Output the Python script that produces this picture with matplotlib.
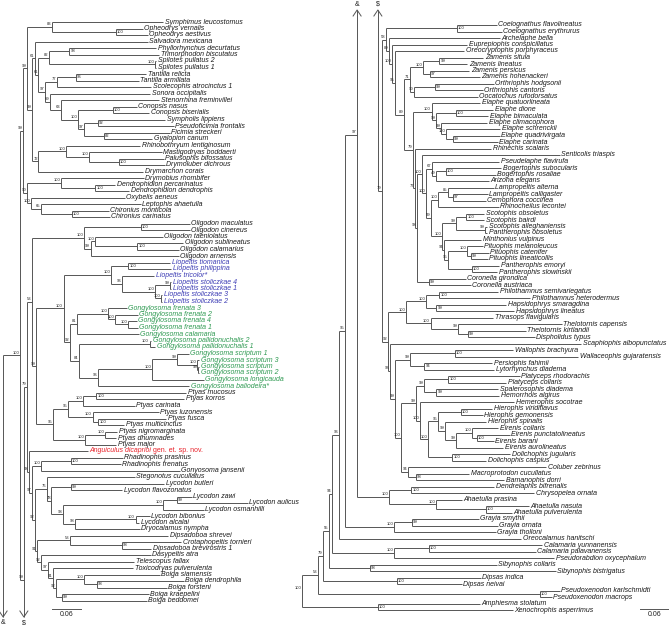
import matplotlib
matplotlib.use("Agg")
import matplotlib.pyplot as plt

plt.rcParams['font.family'] = ['Liberation Sans', 'DejaVu Sans']

# tree pieces, newick: branch lengths in substitutions/site, node labels = support
SYMPHIMUS = "(Symphimus_leucostomus:0.230,(Opheodrys_vernalis:0.056,Opheodrys_aestivus:0.066)100:0.132)83"
PHYLLORHYNCHUS = "((Phyllorhynchus_decurtatus:0.180,Trimorphodon_biscutatus:0.186)98:0.043,(Spilotes_pullatus_2:0.002,Spilotes_pullatus_1:0.002)100:0.221)82"
TANTILLA = "((Tantilla_relicta:0.145,Tantilla_armillata:0.130)96:0.039,Scolecophis_atrocinctus_1:0.195)77"
SONORA = "(Sonora_occipitalis:0.207,(Stenorrhina_freminvillei:0.203,((Conopsis_nasus:0.050,Conopsis_biserialis:0.075)100:0.072,((Sympholis_lippiens:0.139,Pseudoficimia_frontalis:0.157)92:0.029,(Ficimia_streckeri:0.137,Gyalopion_canum:0.101)82:0.041)97:0.012)100:0.035)63:0.023)69"
DRYMARCHON = "((Rhinobothryum_lentiginosum:0.153,(Mastigodryas_boddaerti:0.151,(Palusophis_bifossatus:0.093,Drymoluber_dichrous:0.095)100:0.062)100:0.046)100:0.058,Drymarchon_corais:0.217)72"
LEPTOPHIS = "((Drymobius_rhombifer:0.172,(Dendrophidion_percarinatus:0.041,Dendrophidion_dendrophis:0.070)100:0.072)100:0.070,(Oxybelis_aeneus:0.195,(Leptophis_ahaetulla:0.207,(Chironius_monticola:0.077,Chironius_carinatus:0.079)100:0.064)65:0.021)100:0.008)90"
NEW_WORLD = (f"(({SYMPHIMUS}:0.052,((Salvadora_mexicana:0.234,({PHYLLORHYNCHUS}:0.021,"
             f"({TANTILLA}:0.025,{SONORA}:0.010)97:0.014)61:0.008)61:0.006,{DRYMARCHON}:0.014)99:0.010)99:0.008,"
             f"{LEPTOPHIS}:0.008)99")

OLIGODON = "((Oligodon_maculatus:0.101,Oligodon_cinereus:0.101)100:0.118,((Oligodon_taeniolatus:0.139,(Oligodon_sublineatus:0.095,Oligodon_calamarius:0.085)100:0.087)100:0.010,Oligodon_arnensis:0.182)99:0.014)100"
LIOPELTIS = "((Liopeltis_tiomanica:0.087,Liopeltis_philippina:0.089)100:0.035,(Liopeltis_tricolor*:0.068,((Liopeltis_stoliczkae_4:0.002,Liopeltis_stoliczkae_1:0.002)99:0.031,(Liopeltis_stoliczkae_3:0.002,Liopeltis_stoliczkae_2:0.002)100:0.012)100:0.070)96:0.021)100"
GONGYLOSOMA = "(((Gongylosoma_frenata_3:0.039,(Gongylosoma_frenata_2:0.048,(Gongylosoma_frenata_4:0.019,Gongylosoma_frenata_1:0.021)100:0.027)100:0.014)100:0.064,Gongylosoma_calamaria:0.128)81:0.014,((Gongylosoma_pallidonuchalis_2:0.004,Gongylosoma_pallidonuchalis_1:0.012)100:0.147,(((Gongylosoma_scriptum_1:0.025,(Gongylosoma_scriptum_3:0.004,(Gongylosoma_scriptum:0.002,Gongylosoma_scriptum_2:0.002)99:0.002)100:0.043)99:0.050,Gongylosoma_longicauda:0.106)100:0.112,Gongylosoma_baliodeira*:0.188)96:0.041)84:0.017)92"
PTYAS = "((((Ptyas_mucosus:0.186,Ptyas_korros:0.182)100:0.027,Ptyas_carinata:0.106)100:0.031,(Ptyas_luzonensis:0.137,(Ptyas_fusca:0.141,Ptyas_multicinctus:0.054)100:0.012)100:0.050)95:0.031,((Ptyas_nigromarginata:0.025,Ptyas_dhumnades:0.023)100:0.041,Ptyas_major:0.064)100:0.066)95"
RHADINOPHIS = "((Rhadinophis_prasinus:0.108,Rhadinophis_frenatus:0.103)100:0.062,Gonyosoma_jansenii:0.288)100"
LYCODON = "(Stegonotus_cucullatus:0.182,((Lycodon_butleri:0.192,Lycodon_flavozonatus:0.106)99:0.041,(((Lycodon_zawi:0.031,Lycodon_aulicus:0.147)99:0.029,Lycodon_osmanhilli:0.085)100:0.207,((Lycodon_bibonius:0.029,Lycodon_alcalai:0.008)100:0.126,Dryocalamus_nympha:0.135)98:0.025)93:0.023)78:0.010)76"
BOIGA = "((Dipsadoboa_shrevei:0.203,(Crotaphopeltis_tornieri:0.124,Dipsadoboa_brevirostris_1:0.062)98:0.106)53:0.068,(Dasypeltis_atra:0.226,(Telescopus_fallax:0.178,(Toxicodryas_pulverulenta:0.166,((Boiga_siamensis:0.157,(Boiga_dendrophila:0.180,Boiga_forsteni:0.145)98:0.027)100:0.058,(Boiga_kraepelini:0.180,Boiga_beddomei:0.176)99:0.012)92:0.006)91:0.010)97:0.014)92:0.008)91"
OLD_WORLD = (f"(({OLIGODON}:0.108,(({LIOPELTIS}:0.099,{GONGYLOSOMA}:0.014)100:0.056,{PTYAS}:0.035)99:0.010)53:0.010,"
             f"(Anguiculus_dicaprioi_gen._et._sp._nov.:0.122,({RHADINOPHIS}:0.019,({LYCODON}:0.025,{BOIGA}:0.006)92:0.006)97:0.006)93:0.004)79")

COELOGNATHUS = "(Coelognathus_flavolineatus:0.083,Coelognathus_erythrurus:0.093)100"
ZAMENIS = "((Zamenis_situla:0.091,Zamenis_lineatus:0.058)99:0.033,(Zamenis_persicus:0.081,Zamenis_hohenackeri:0.103)97:0.014)100"
ORTHRIOPHIS = "((Orthriophis_hodgsonii:0.122,Orthriophis_cantoris:0.099)99:0.043,Oocatochus_rufodorsatus:0.132)90"
ELAPHE = "(Elaphe_quatuorlineata:0.101,((Elaphe_dione:0.077,Elaphe_bimaculata:0.066)100:0.041,(Elaphe_climacophora:0.095,(Elaphe_schrenckii:0.112,(Elaphe_quadrivirgata:0.097,Elaphe_carinata:0.093)99:0.014)100:0.010)99:0.010)99:0.010)100"
LAMPROPELTIS = "(Senticolis_triaspis:0.284,((Pseudelaphe_flavirufa:0.139,((Bogertophis_subocularis:0.114,Bogertophis_rosaliae:0.103)100:0.021,Arizona_elegans:0.110)49:0.008)67:0.012,(((Lampropeltis_alterna:0.095,(Lampropeltis_calligaster:0.072,Cemophora_coccinea:0.068)97:0.010)85:0.021,Rhinocheilus_lecontei:0.126)100:0.014,(((Scotophis_obsoletus:0.037,Scotophis_bairdi:0.037)100:0.021,(Scotophis_alleghaniensis:0.004,Pantherophis_obsoletus:0.004)99:0.060)99:0.029,(Minthonius_vulpinus:0.077,((Pituophis_melanoleucus:0.033,(Pituophis_catenifer:0.037,Pituophis_lineaticollis:0.035)99:0.008)100:0.039,(Pantherophis_emoryi:0.056,Pantherophis_slowinskii:0.052)100:0.050)95:0.008)94:0.004)100:0.023)59:0.010)100:0.008)100"
ELAPHINI = (f"({COELOGNATHUS}:0.147,(Archelaphe_bella:0.228,(Euprepiophis_conspicillatus:0.155,"
            f"(Oreocryptophis_porphyraceus:0.143,(({ZAMENIS}:0.027,{ORTHRIOPHIS}:0.008)71:0.012,"
            f"({ELAPHE}:0.039,(Rhinechis_scalaris:0.159,({LAMPROPELTIS}:0.012,"
            f"(Coronella_girondica:0.077,Coronella_austriaca:0.087)99:0.025)93:0.004)77:0.004)79:0.017)89:0.019)95:0.006)100:0.006)89:0.008)58")

AFRICAN = "(((Philothamnus_semivariegatus:0.122,Philothamnus_heterodermus:0.188)100:0.027,(Hapsidophrys_smaragdina:0.145,Hapsidophrys_lineatus:0.161)99:0.021)100:0.041,(Thrasops_flavigularis:0.130,(Thelotornis_capensis:0.215,(Thelotornis_kirtlandii:0.120,Dispholidus_typus:0.139)99:0.021)99:0.056)100:0.050)100"
WALLOPHIS = "((Wallophis_brachyura:0.120,Wallaceophis_gujaratensis:0.255)100:0.093,(Persiophis_fahimii:0.141,Lytorhynchus_diadema:0.145)94:0.029)99"
PLATYCEPS = "((Platyceps_rhodorachis:0.147,Platyceps_collaris:0.120)100:0.050,(Spalerosophis_diadema:0.128,Hemorrhois_algirus:0.130)99:0.025)99"
HIEROPHIS = "((Hierophis_viridiflavus:0.066,Hierophis_gemonensis:0.046)100:0.046,(Hierophis_spinalis:0.085,((Eirenis_collaris:0.054,(Eirenis_punctatolineatus:0.068,Eirenis_barani:0.035)100:0.010)100:0.033,Eirenis_aurolineatus:0.097)99:0.023)99:0.014)95"
COLUBER = "(Coluber_zebrinus:0.286,(Macroprotodon_cucullatus:0.110,Bamanophis_dorri:0.182)98:0.017)94"
COLUBRINI = (f"({AFRICAN}:0.039,(Scaphiophis_albopunctatus:0.395,({WALLOPHIS}:0.031,(({PLATYCEPS}:0.017,"
             f"(Hemerophis_socotrae:0.195,({HIEROPHIS}:0.021,(Dolichophis_jugularis:0.120,Dolichophis_caspius:0.070)100:0.050)100:0.017)100:0.008)99:0.031,"
             f"{COLUBER}:0.014)100:0.012)99:0.010)96:0.006)92")

AHAETULLA = "((Dendrelaphis_bifrenalis:0.172,Chrysopelea_ornata:0.255)100:0.046,(Ahaetulla_prasina:0.054,(Ahaetulla_nasuta:0.089,Ahaetulla_pulverulenta:0.054)100:0.103)100:0.097)100"
GRAYIA = "((Grayia_smythii:0.139,Grayia_ornata:0.178)99:0.037,Grayia_tholloni:0.211)100"
CALAMARIA = "((Calamaria_yunnanensis:0.234,Calamaria_palavanensis:0.221)100:0.072,Pseudorabdion_oxycephalum:0.331)100"
SIBYNOPHIS = "(Sibynophis_collaris:0.263,Sibynophis_bistrigatus:0.385)98"
DIPSAS = "(Dipsas_indica:0.174,Dipsas_neivai:0.134)100"
PSEUDOXENODON = "(Pseudoxenodon_karlschmidti:0.041,Pseudoxenodon_macrops:0.025)100"
NATRICINAE = "(Amphiesma_stolatum:0.211,Xenochrophis_asperrimus:0.279)100"

TREE = (f"((((((((({NEW_WORLD}:0.006,({OLD_WORLD}:0.006,({ELAPHINI}:0.008,{COLUBRINI}:0.012)79:0.008)99:0.008)100:0.035,"
        f"{AHAETULLA}:0.066)97:0.025,{GRAYIA}:0.101)95:0.012,Oreocalamus_hanitschi:0.377)96:0.014,"
        f"{CALAMARIA}:0.128)94:0.008,{SIBYNOPHIS}:0.085)55:0.012,{DIPSAS}:0.153)79:0.010,"
        f"{PSEUDOXENODON}:0.459)53:0.033,{NATRICINAE}:0.157)100")

N_LEFT = 90          # tips shown in the left column
HIGHLIGHT = {'Liopeltis': '#3d3db5', 'Gongylosoma': '#2f9a52', 'Anguiculus': '#e8232b'}
NEW_TAXON_SUFFIX = ' gen. et. sp. nov.'
LINE = '#555555'
LW = 0.7
TIP_FS = 5.0
SUP_FS = 3.0


def parse(s):
    pos = 0

    def read():
        nonlocal pos
        node = {'kids': []}
        if s[pos] == '(':
            pos += 1
            node['kids'].append(read())
            while s[pos] == ',':
                pos += 1
                node['kids'].append(read())
            pos += 1
        start = pos
        while pos < len(s) and s[pos] not in ',():':
            pos += 1
        node['name'] = s[start:pos].replace('_', ' ')
        node['len'] = 0.0
        if pos < len(s) and s[pos] == ':':
            pos += 1
            start = pos
            while pos < len(s) and s[pos] not in ',()':
                pos += 1
            node['len'] = float(s[start:pos])
        return node
    return read()


tips = []


def place(node, x0):
    node['x'] = x0 + node['len']
    for k in node['kids']:
        place(k, node['x'])
    if node['kids']:
        node['y'] = (node['kids'][0]['y'] + node['kids'][-1]['y']) / 2
    else:
        node['y'] = len(tips)
        tips.append(node)


root = parse(TREE)
place(root, 0.0)

# page geometry (pixels) -> data units
W, H = 669, 625
PX = 0.06 / 29          # substitutions per pixel
ROOT_PX = 302
SHIFT_PX = 354
STEP = 6.5
TOP_L, TOP_R = 22, 25

fig = plt.figure(figsize=(W / 100, H / 100), dpi=100)
axL = fig.add_axes([0, 0, 1, 1])
axR = fig.add_axes([0, 0, 1, 1])
axL.set_xlim((SHIFT_PX - ROOT_PX) * PX, (W + SHIFT_PX - ROOT_PX) * PX)
axR.set_xlim(-ROOT_PX * PX, (W - ROOT_PX) * PX)
axL.set_ylim((H - TOP_L) / STEP, -TOP_L / STEP)
axR.set_ylim((H - TOP_R) / STEP, -TOP_R / STEP)
for ax in (axL, axR):
    ax.axis('off')
    ax.patch.set_alpha(0)
axes = [axL, axR]
offs = [0, N_LEFT]


def side(y):
    return 0 if y < N_LEFT - 0.5 else 1


def ypx_l(p):
    return (p - TOP_L) / STEP


def ypx_r(p):
    return (p - TOP_R) / STEP


crossing = []


def draw(node, parent):
    s = side(node['y'])
    ax, off = axes[s], offs[s]
    y = node['y'] - off
    if parent is not None:
        ax.plot([parent['x'], node['x']], [y, y], color=LINE, lw=LW, solid_capstyle='butt')
    if node['kids']:
        y1, y2 = node['kids'][0]['y'], node['kids'][-1]['y']
        x = node['x']
        if side(y1) == side(y2):
            a = side(y1)
            axes[a].plot([x, x], [y1 - offs[a], y2 - offs[a]], color=LINE, lw=LW, solid_capstyle='butt')
        else:
            crossing.append(node)
            axL.plot([x, x], [y1, ypx_l(617)], color=LINE, lw=LW, solid_capstyle='butt')
            axR.plot([x, x], [ypx_r(10), y2 - N_LEFT], color=LINE, lw=LW, solid_capstyle='butt')
        if node['name']:
            cherry = all(not k['kids'] for k in node['kids'])
            room = min(k['len'] for k in node['kids']) > 12 * PX
            if cherry and room:
                ax.text(x + 1.0 * PX, y, node['name'], fontsize=SUP_FS, ha='left', va='center', color='#222222')
            else:
                ax.text(x - 0.6 * PX, y - 0.1, node['name'], fontsize=SUP_FS, ha='right', va='bottom', color='#222222')
        for k in node['kids']:
            draw(k, node)
    else:
        name = node['name']
        color = '#1a1a1a'
        for key, c in HIGHLIGHT.items():
            if name.startswith(key):
                color = c
        if name.endswith(NEW_TAXON_SUFFIX):
            t = ax.text(node['x'] + 1.5 * PX, y, name[:-len(NEW_TAXON_SUFFIX)], fontsize=TIP_FS,
                        style='italic', va='center', color=color)
            ax.annotate(NEW_TAXON_SUFFIX, xy=(1, 0.5), xycoords=t, fontsize=TIP_FS,
                        ha='left', va='center', color=color)
        else:
            ax.text(node['x'] + 1.5 * PX, y, name, fontsize=TIP_FS, style='italic', va='center', color=color)


draw(root, None)

# continuation arrows between the two columns
for node, mark in zip(sorted(crossing, key=lambda n: n['x']), ['&', '$']):
    x = node['x']
    axL.plot([x - 4 * PX, x, x + 4 * PX], [ypx_l(611), ypx_l(617), ypx_l(611)], color=LINE, lw=LW)
    axL.text(x, ypx_l(623), mark, fontsize=5, ha='center', va='center', color='#222222')
    axR.plot([x - 4 * PX, x, x + 4 * PX], [ypx_r(16), ypx_r(10), ypx_r(16)], color=LINE, lw=LW)
    axR.text(x, ypx_r(4), mark, fontsize=5, ha='center', va='center', color='#222222')

# scale bars
x0 = (52 + SHIFT_PX - ROOT_PX) * PX
axL.plot([x0, x0 + 0.06], [ypx_l(609)] * 2, color=LINE, lw=LW)
axL.text(x0 + 0.03, ypx_l(614), '0.06', fontsize=5, ha='center', va='center', color='#222222')
x0 = (640 - ROOT_PX) * PX
axR.plot([x0, x0 + 0.06], [ypx_r(609)] * 2, color=LINE, lw=LW)
axR.text(x0 + 0.03, ypx_r(614), '0.06', fontsize=5, ha='center', va='center', color='#222222')

fig.savefig('out.png', dpi=100, facecolor='white')
